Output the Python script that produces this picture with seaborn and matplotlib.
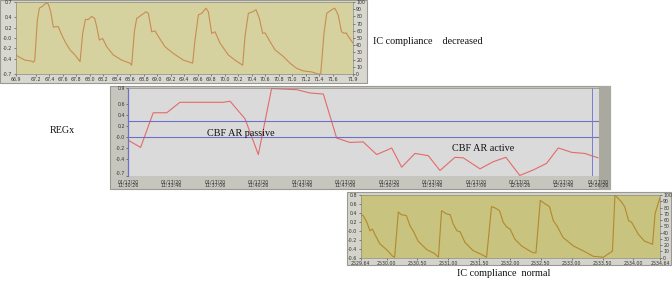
import matplotlib
matplotlib.use("Agg")
import matplotlib.pyplot as plt
from matplotlib.patches import Rectangle
import pandas as pd
import seaborn as sns

# --- top trace: IC compliance decreased ---
dec_x = [66.900, 66.964, 67.038, 67.137, 67.162, 67.182, 67.221, 67.251, 67.300, 67.350,
         67.384, 67.419, 67.458, 67.498, 67.532, 67.572, 67.631, 67.705, 67.779, 67.854,
         67.893, 67.933, 67.977, 68.026, 68.071, 68.101, 68.140, 68.190, 68.249, 68.348,
         68.471, 68.595, 68.619, 68.659, 68.693, 68.768, 68.832, 68.866, 68.916, 68.965,
         69.015, 69.113, 69.237, 69.385, 69.523, 69.558, 69.608, 69.657, 69.721, 69.756,
         69.805, 69.855, 69.929, 70.052, 70.151, 70.265, 70.299, 70.349, 70.413, 70.462,
         70.512, 70.561, 70.596, 70.670, 70.744, 70.868, 70.966, 71.065, 71.164, 71.287,
         71.386, 71.421, 71.470, 71.510, 71.584, 71.630, 71.680, 71.730, 71.770, 71.800,
         71.830, 71.900]
dec_y = [-0.33, -0.38, -0.43, -0.45, -0.47, -0.44, 0.35, 0.58, 0.62, 0.68,
         0.66, 0.51, 0.21, 0.22, 0.22, 0.09, -0.07, -0.23, -0.33, -0.46,
         0.09, 0.36, 0.36, 0.42, 0.38, 0.22, -0.04, -0.01, -0.17, -0.33,
         -0.43, -0.49, -0.53, 0.12, 0.38, 0.45, 0.51, 0.48, 0.12, 0.14,
         0.03, -0.17, -0.30, -0.43, -0.49, -0.04, 0.45, 0.48, 0.58, 0.51,
         0.09, 0.12, -0.10, -0.33, -0.43, -0.53, 0.03, 0.48, 0.51, 0.55,
         0.38, 0.09, 0.10, -0.07, -0.23, -0.36, -0.49, -0.59, -0.64, -0.66,
         -0.70, -0.70, 0.09, 0.48, 0.55, 0.58, 0.45, 0.12, 0.09, 0.10,
         0.03, -0.10]
dec_xticks = [66.9, 67.2, 67.4, 67.6, 67.8, 68.0, 68.2, 68.4, 68.6, 68.8, 69.0, 69.2,
              69.4, 69.6, 69.8, 70.0, 70.2, 70.4, 70.6, 70.8, 71.0, 71.2, 71.4, 71.6, 71.9]
dec_yticks = [-0.7, -0.4, -0.2, 0.0, 0.2, 0.4, 0.7]
dec_ylabels = ["-0.7", "-0.4", "-0.2", "-0.0", "0.2", "0.4", "0.7"]

# --- middle trace: REGx over time (seconds after 11:30:26) ---
reg_t = [1, 58, 116, 178, 239, 438, 469, 538, 599, 660, 775, 836, 898, 959, 1020,
         1081, 1143, 1196, 1212, 1258, 1319, 1380, 1434, 1503, 1541, 1618, 1679,
         1737, 1801, 1863, 1924, 1978, 2039, 2100, 2161]
reg_v = [-0.05, -0.18, 0.45, 0.45, 0.64, 0.64, 0.66, 0.34, -0.31, 0.89, 0.87, 0.81,
         0.79, -0.01, -0.09, -0.08, -0.31, -0.22, -0.19, -0.54, -0.29, -0.33, -0.60,
         -0.36, -0.37, -0.57, -0.44, -0.36, -0.69, -0.59, -0.47, -0.19, -0.27, -0.29,
         -0.37]
reg_xticks = [0, 200, 400, 600, 800, 1000, 1200, 1400, 1600, 1800, 2000, 2160]
reg_xlabels = ["01/17/20\n11:30:26", "01/17/20\n11:33:46", "01/17/20\n11:37:06",
               "01/17/20\n11:40:26", "01/17/20\n11:43:46", "01/17/20\n11:47:06",
               "01/17/20\n11:50:26", "01/17/20\n11:53:46", "01/17/20\n11:57:06",
               "01/17/20\n12:00:26", "01/17/20\n12:03:46", "01/17/20\n12:06:26"]
reg_yticks = [-0.7, -0.4, -0.2, 0.0, 0.2, 0.4, 0.6, 0.9]
reg_ylabels = ["-0.7", "-0.4", "-0.2", "-0.0", "0.2", "0.4", "0.6", "0.9"]
reg_hlines = [0.3, 0.0]
reg_cursor = 2131

# --- bottom trace: IC compliance normal ---
nor_x = [2529.58, 2529.62, 2529.68, 2529.73, 2529.77, 2529.81, 2529.89, 2530.00, 2530.10,
         2530.13, 2530.19, 2530.24, 2530.32, 2530.38, 2530.43, 2530.51, 2530.65, 2530.78,
         2530.84, 2530.89, 2530.97, 2531.03, 2531.08, 2531.14, 2531.19, 2531.27, 2531.40,
         2531.54, 2531.62, 2531.70, 2531.76, 2531.83, 2531.89, 2531.95, 2532.00, 2532.08,
         2532.19, 2532.32, 2532.38, 2532.42, 2532.49, 2532.55, 2532.64, 2532.70, 2532.76,
         2532.86, 2533.03, 2533.19, 2533.35, 2533.51, 2533.62, 2533.66, 2533.70, 2533.81,
         2533.86, 2533.92, 2533.97, 2534.08, 2534.18, 2534.31, 2534.35, 2534.43]
nor_y = [0.36, 0.34, 0.19, 0.00, 0.04, -0.08, -0.29, -0.42, -0.57,
         -0.59, 0.42, 0.36, 0.34, 0.11, 0.00, -0.23, -0.42, -0.51,
         -0.59, 0.45, 0.38, 0.36, 0.15, 0.00, -0.02, -0.26, -0.44,
         -0.53, -0.59, 0.54, 0.51, 0.45, 0.19, 0.08, 0.04, -0.19,
         -0.34, -0.45, -0.49, -0.49, 0.68, 0.62, 0.54, 0.23, 0.11,
         -0.15, -0.34, -0.45, -0.57, -0.59, -0.49, -0.45, 0.80, 0.64,
         0.53, 0.23, 0.19, -0.08, -0.23, -0.30, 0.38, 0.75]
nor_xticks = [2529.58, 2530.0, 2530.5, 2531.0, 2531.5, 2532.0, 2532.5, 2533.0, 2533.5,
              2534.0, 2534.43]
nor_xlabels = ["2529.64", "2530.00", "2530.50", "2531.00", "2531.50", "2532.00",
               "2532.50", "2533.00", "2533.50", "2534.00", "2534.64"]
nor_yticks = [-0.6, -0.4, -0.2, 0.0, 0.2, 0.4, 0.6, 0.8]
nor_ylabels = ["-0.6", "-0.4", "-0.2", "-0.0", "0.2", "0.4", "0.6", "0.8"]

pct_ticks = [0, 10, 20, 30, 40, 50, 60, 70, 80, 90, 100]

sns.set_style("ticks")
plt.rcParams["font.family"] = ["DejaVu Sans"]

W, H = 672, 287
fig = plt.figure(figsize=(W / 100, H / 100), dpi=100)
fig.patch.set_facecolor("white")


def box(x0, y0, x1, y1):
    # pixel box (top-left origin) -> figure fraction rect
    return [x0 / W, 1 - y1 / H, (x1 - x0) / W, (y1 - y0) / H]


def frame(x0, y0, x1, y1, fc, ec="#9a9a92"):
    l, b, w, h = box(x0, y0, x1, y1)
    fig.add_artist(Rectangle((l, b), w, h, transform=fig.transFigure, facecolor=fc,
                             edgecolor=ec, lw=0.8, zorder=-1))


tick_kw = dict(labelsize=3.4, length=1.5, width=0.4, pad=0.8, colors="#333333")


def style_axes(ax, fc):
    ax.set_facecolor(fc)
    for s in ax.spines.values():
        s.set_color("#8a8a80")
        s.set_linewidth(0.5)
    ax.tick_params(**tick_kw)
    ax.set_xlabel("")
    ax.set_ylabel("")


# ---------------- top panel ----------------
frame(0, 0, 367, 83, "#d8d8d0")
ax1 = fig.add_axes(box(15.7, 2, 353, 74))
sns.lineplot(x=dec_x, y=dec_y, ax=ax1, color="#c98c52", lw=0.8, sort=False, estimator=None)
ax1.set_xlim(66.9, 71.9)
ax1.set_ylim(-0.7, 0.7)
ax1.set_xticks(dec_xticks)
ax1.set_xticklabels([f"{v:.1f}" for v in dec_xticks])
ax1.set_yticks(dec_yticks)
ax1.set_yticklabels(dec_ylabels)
style_axes(ax1, "#d6d29f")
ax1r = ax1.twinx()
ax1r.set_ylim(0, 100)
ax1r.set_yticks(pct_ticks)
ax1r.tick_params(**tick_kw)
for s in ax1r.spines.values():
    s.set_visible(False)

# ---------------- middle panel ----------------
frame(110, 86, 610, 189, "#c6c6be")
frame(599, 86, 610, 189, "#a9a9a0", ec="#a9a9a0")
ax2 = fig.add_axes(box(128, 88, 599, 176))
sns.lineplot(x=reg_t, y=reg_v, ax=ax2, color="#e46a6a", lw=0.8, sort=False, estimator=None)
for yv in reg_hlines:
    ax2.axhline(yv, color="#6f6fc8", lw=0.8)
ax2.axvline(reg_cursor, color="#7d7dd0", lw=0.7)
ax2.set_xlim(0, 2165)
ax2.set_ylim(-0.7, 0.9)
ax2.set_xticks(reg_xticks)
ax2.set_xticklabels(reg_xlabels, linespacing=0.85)
ax2.set_yticks(reg_yticks)
ax2.set_yticklabels(reg_ylabels)
style_axes(ax2, "#dadada")
ax2.spines["left"].set_color("#6f6fc8")
ax2.spines["left"].set_linewidth(0.9)
ax2.spines["bottom"].set_visible(False)
ax2.spines["right"].set_visible(False)
ax2.tick_params(axis="x", labelsize=3.4, length=0, pad=2.2)
for lab in ax2.get_yticklabels():
    if lab.get_text() == "-0.7":
        lab.set_verticalalignment("bottom")

# ---------------- bottom panel ----------------
frame(346.7, 191.7, 670.7, 265, "#d4d4cc")
ax3 = fig.add_axes(box(360.7, 195, 660, 257.7))
sns.lineplot(x=nor_x, y=nor_y, ax=ax3, color="#b4882e", lw=0.8, sort=False, estimator=None)
ax3.set_xlim(2529.58, 2534.43)
ax3.set_ylim(-0.6, 0.8)
ax3.set_xticks(nor_xticks)
ax3.set_xticklabels(nor_xlabels)
ax3.set_yticks(nor_yticks)
ax3.set_yticklabels(nor_ylabels)
style_axes(ax3, "#c8c37e")
ax3r = ax3.twinx()
ax3r.set_ylim(0, 100)
ax3r.set_yticks(pct_ticks)
ax3r.tick_params(**tick_kw)
for s in ax3r.spines.values():
    s.set_visible(False)

# ---------------- annotations ----------------
serif = dict(family=["Liberation Serif", "DejaVu Serif"], fontsize=7.3, color="#111111",
             va="center")
fig.text(373 / W, 1 - 42 / H, "IC compliance    decreased", **serif)
fig.text(50 / W, 1 - 130 / H, "REGx", **serif)
fig.text(207 / W, 1 - 133 / H, "CBF AR passive", **serif)
fig.text(452 / W, 1 - 148.5 / H, "CBF AR active", **serif)
fig.text(457 / W, 1 - 273 / H, "IC compliance  normal", **serif)

fig.savefig("out.png", dpi=100)
